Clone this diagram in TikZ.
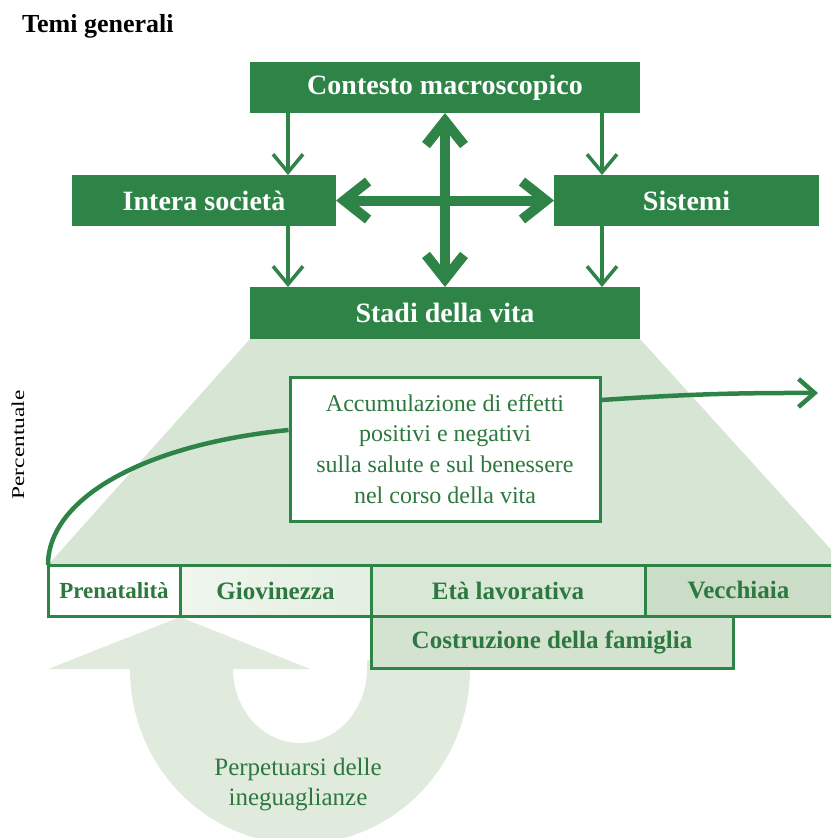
\documentclass[tikz,border=0pt]{standalone}
\usepackage{fontspec}
\setmainfont{Liberation Serif}
\usetikzlibrary{arrows.meta,calc}
\definecolor{dg}{RGB}{46,132,70}
\definecolor{tg}{RGB}{44,120,62}
\definecolor{trapc}{RGB}{214,229,212}
\definecolor{uarrc}{RGB}{224,235,222}
\definecolor{giovl}{RGB}{240,246,238}
\definecolor{giovr}{RGB}{228,238,226}
\definecolor{etac}{RGB}{217,231,214}
\definecolor{vecc}{RGB}{203,221,199}
\definecolor{famc}{RGB}{212,227,208}
\tikzset{
  darkbox/.style={fill=dg,text=white,inner sep=0pt,outer sep=0pt,
    font=\fontsize{28}{30}\selectfont\bfseries},
  cell/.style={draw=dg,line width=3pt,inner sep=0pt,outer sep=0pt,
    text=tg,font=\fontsize{25}{28}\selectfont\bfseries,minimum height=51pt},
  thinarrow/.style={draw=dg,line width=3.5pt,
    -{Straight Barb[length=18pt,width=30pt,sharp]}},
  thickarrow/.style={draw=dg,line width=10pt,
    {Straight Barb[length=24pt,width=38pt,sharp]}-{Straight Barb[length=24pt,width=38pt,sharp]}},
  lifecurve/.style={draw=dg,line width=4.5pt},
  greentext/.style={text=tg,align=center},
}
\begin{document}
\begin{tikzpicture}[x=1pt,y=-1pt]
\useasboundingbox (0,0) rectangle (831,838);
\begin{scope}
\clip (0,0) rectangle (831,838);
% title
\node[anchor=west,inner sep=0pt,font=\fontsize{26}{28}\selectfont\bfseries] (title) at (22,26) {Temi generali};
% top boxes
\node[darkbox,minimum width=390pt,minimum height=51pt] (contesto) at (445,87.5) {Contesto macroscopico};
\node[darkbox,minimum width=264pt,minimum height=51pt] (intera) at (204,200.5) {Intera società};
\node[darkbox,minimum width=265pt,minimum height=51pt] (sistemi) at (686.5,200.5) {Sistemi};
\node[darkbox,minimum width=390pt,minimum height=52pt] (stadi) at (445,313) {Stadi della vita};
% light trapezoid
\fill[trapc] (stadi.south west) -- (stadi.south east) -- (845,565) -- (48,565) -- cycle;
% U arrow
\fill[uarrc] (180,617) -- (310,669) -- (233,669)
  arc[start angle=180,end angle=360,x radius=67pt,y radius=74pt]
  -- (367,660) -- (470,660) -- (470,669)
  arc[start angle=0,end angle=-180,x radius=170pt,y radius=175pt]
  -- (48,669) -- cycle;
% arrows between top boxes
\draw[thinarrow] ([xshift=38pt]contesto.south west) -- ([xshift=38pt]contesto.south west |- intera.north);
\draw[thinarrow] ([xshift=-38pt]contesto.south east) -- ([xshift=-38pt]contesto.south east |- sistemi.north);
\draw[thinarrow] ([xshift=38pt]stadi.north west |- intera.south) -- ([xshift=38pt]stadi.north west);
\draw[thinarrow] ([xshift=-38pt]stadi.north east |- sistemi.south) -- ([xshift=-38pt]stadi.north east);
\draw[thickarrow] (contesto.south) -- (stadi.north);
\draw[thickarrow] (intera.east) -- (sistemi.west);
% accumulation box
\node[draw=dg,line width=3pt,fill=white,minimum width=310pt,minimum height=144pt,
  inner sep=0pt,greentext,font=\fontsize{24}{30.7}\selectfont] (accum) at (445,449)
  {Accumulazione di effetti\\positivi e negativi\\sulla salute e sul benessere\\nel corso della vita};
% stage cells
\node[cell,fill=white,minimum width=132pt,font=\fontsize{23}{26}\selectfont\bfseries] (pren) at (114,590.5) {Prenatalità};
\node[cell,left color=giovl,right color=giovr,minimum width=191pt] (giov) at (275.5,590.5) {Giovinezza};
\node[cell,fill=etac,minimum width=274pt] (eta) at (508,590.5) {Età lavorativa};
\node[cell,fill=vecc,minimum width=205pt,text width=186pt,align=left] (vecch) at (747.5,590.5) {\hspace*{33pt}Vecchiaia};
\node[cell,fill=famc,minimum width=362pt,minimum height=52pt] (fam) at (552,642) {Costruzione della famiglia};
% life course curve
\draw[lifecurve] (pren.north west) .. controls (48,500) and (140,445) .. ([yshift=19pt]accum.west);
\coordinate (arrend) at (818,393);
\draw[lifecurve,-{Straight Barb[length=16pt,width=28pt,sharp]}] ([yshift=49pt]accum.east) to[bend left=2] (arrend);
% labels
\node[rotate=90,inner sep=0pt] (perc) at (18,445) {\scalebox{1.3}[1]{\fontsize{18}{18}\selectfont Percentuale}};
\node[greentext,inner sep=0pt,font=\fontsize{25}{30}\selectfont] (perp) at (298,785) {Perpetuarsi delle\\ineguaglianze};
\end{scope}
\end{tikzpicture}
\end{document}
